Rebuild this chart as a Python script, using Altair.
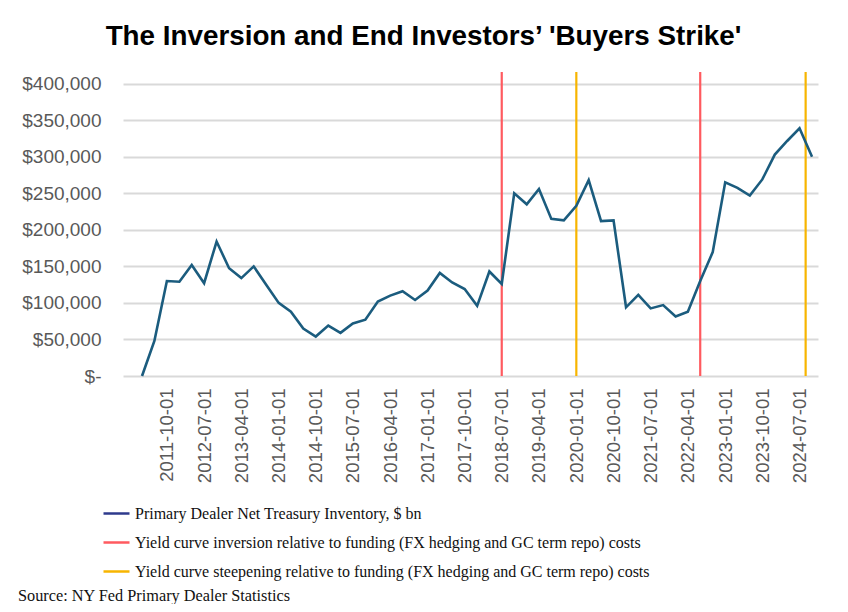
import altair as alt
import pandas as pd

title_text = "The Inversion and End Investors\u2019 'Buyers Strike'"
source_text = "Source: NY Fed Primary Dealer Statistics"

dates = [
    "2011-04-01", "2011-07-01", "2011-10-01", "2012-01-01", "2012-04-01", "2012-07-01", "2012-10-01",
    "2013-01-01", "2013-04-01", "2013-07-01", "2013-10-01", "2014-01-01", "2014-04-01", "2014-07-01",
    "2014-10-01", "2015-01-01", "2015-04-01", "2015-07-01", "2015-10-01", "2016-01-01", "2016-04-01",
    "2016-07-01", "2016-10-01", "2017-01-01", "2017-04-01", "2017-07-01", "2017-10-01", "2018-01-01",
    "2018-04-01", "2018-07-01", "2018-10-01", "2019-01-01", "2019-04-01", "2019-07-01", "2019-10-01",
    "2020-01-01", "2020-04-01", "2020-07-01", "2020-10-01", "2021-01-01", "2021-04-01", "2021-07-01",
    "2021-10-01", "2022-01-01", "2022-04-01", "2022-07-01", "2022-10-01", "2023-01-01", "2023-04-01",
    "2023-07-01", "2023-10-01", "2024-01-01", "2024-04-01", "2024-07-01", "2024-10-01",
]
inventory = [
    0, 48000, 130000, 129000, 152000, 127000, 184000, 147500, 134000, 150000,
    125000, 100000, 88000, 65000, 54000, 69000, 59000, 72000, 77000, 102000,
    110000, 116000, 104000, 117000, 141000, 128000, 119000, 96000, 143000, 126000,
    250000, 235000, 256000, 215000, 213000, 233000, 268000, 212000, 213000, 94000,
    111000, 92500, 97000, 81500, 88000, 130000, 169500, 265000, 257500, 247000,
    269000, 303000, 321600, 339000, 300000,
]

tick_dates = [
    (2011, 10), (2012, 7), (2013, 4), (2014, 1), (2014, 10), (2015, 7), (2016, 4), (2017, 1),
    (2017, 10), (2018, 7), (2019, 4), (2020, 1), (2020, 10), (2021, 7), (2022, 4), (2023, 1),
    (2023, 10), (2024, 7),
]
y_ticks = [0, 50000, 100000, 150000, 200000, 250000, 300000, 350000, 400000]

series_names = [
    "Primary Dealer Net Treasury Inventory, $ bn",
    "Yield curve inversion relative to funding (FX hedging and GC term repo) costs",
    "Yield curve steepening relative to funding (FX hedging and GC term repo) costs",
]
series_colors = ["#2e3a8c", "#ff5a5f", "#f7b500"]

event_dates = ["2018-07-01", "2020-01-01", "2022-07-01", "2024-08-15"]
event_types = [series_names[1], series_names[2], series_names[1], series_names[2]]

df = pd.DataFrame({"date": dates, "value": inventory})
ev = pd.DataFrame({"date": event_dates, "kind": event_types})
src = pd.DataFrame({"t": [source_text]})

x_scale = alt.Scale(
    domain=[alt.DateTime(year=2010, month=11, date=12, utc=True),
            alt.DateTime(year=2024, month=11, date=14, utc=True)],
    nice=False,
)
y_scale = alt.Scale(domain=[0, 416000], nice=False, zero=True)

x_axis = alt.Axis(
    title=None,
    values=[alt.DateTime(year=y, month=m, date=1, utc=True) for y, m in tick_dates],
    labelExpr="utcFormat(datum.value, '%Y-%m-%d')",
    labelAngle=-90,
    labelFont="Liberation Sans",
    labelFontSize=18.5,
    labelColor="#595959",
    labelPadding=12,
    domain=False,
    ticks=False,
    grid=False,
    labelOverlap=False,
)
y_axis = alt.Axis(
    title=None,
    values=y_ticks,
    labelExpr="datum.value == 0 ? '$-\u00a0\u00a0' : '$' + format(datum.value, ',')",
    labelFont="Liberation Sans",
    labelFontSize=19,
    labelColor="#595959",
    labelPadding=22,
    domain=False,
    ticks=False,
    grid=True,
    gridColor="#d9d9d9",
    gridWidth=2,
)

line = alt.Chart(df).mark_line(color="#1b5c7e", strokeWidth=2.6).encode(
    x=alt.X("date:T", scale=x_scale, axis=x_axis),
    y=alt.Y("value:Q", scale=y_scale, axis=y_axis),
)

rules = alt.Chart(ev).mark_rule(strokeWidth=2.2).encode(
    x=alt.X("date:T", scale=x_scale),
    color=alt.Color(
        "kind:N",
        scale=alt.Scale(domain=series_names, range=series_colors),
        legend=alt.Legend(
            title=None,
            orient="none",
            legendX=-21,
            legendY=427,
            direction="vertical",
            symbolType="stroke",
            symbolSize=676,
            symbolStrokeWidth=2.5,
            labelFont="Liberation Serif",
            labelFontSize=16,
            labelColor="#111111",
            labelOffset=4,
            labelLimit=900,
            rowPadding=6,
        ),
    ),
)

source = alt.Chart(src).mark_text(
    align="left", baseline="middle", font="Liberation Serif", fontSize=16.3, color="#111111"
).encode(x=alt.value(-105), y=alt.value(524), text="t:N")

chart = alt.layer(rules, line, source).properties(
    width=695,
    height=304,
    autosize=alt.AutoSizeParams(type="none"),
    padding={"left": 115, "top": 64, "right": 22, "bottom": 228},
    title=alt.TitleParams(
        title_text,
        anchor="middle",
        dx=-47,
        offset=20,
        font="Liberation Sans",
        fontSize=27.8,
        fontWeight="bold",
        color="#000000",
    ),
).configure_view(stroke=None)

chart.save("out.html", embed_options={"renderer": "svg", "actions": False})
